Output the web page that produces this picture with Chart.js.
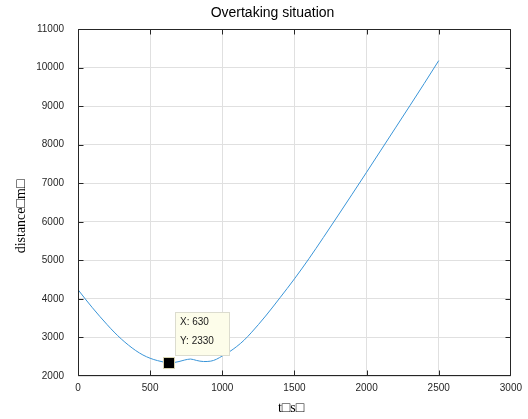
<!DOCTYPE html>
<html>
<head>
<meta charset="utf-8">
<script src="https://cdn.jsdelivr.net/npm/chart.js@4.4.0/dist/chart.umd.min.js"></script>
<style>
html,body{margin:0;padding:0;background:#fff;overflow:hidden}
#wrap{width:528px;height:419px;position:relative}
</style>
</head>
<body>
<div id="wrap"><canvas id="c" width="528" height="419"></canvas></div>
<script>
// ---- data ----
const chartTitle = 'Overtaking situation';
const xAxisLabel = 't\u25A1s\u25A1';
const yAxisLabel = 'distance\u25A1m\u25A1';

const timeValues = [0, 50, 100, 150, 200, 250, 300, 350, 400, 450, 500, 550, 600, 630, 660, 700, 740, 780, 820, 870, 920, 960, 1000, 1050, 1100, 1150, 1200, 1300, 1400, 1500, 1600, 1700, 1800, 1900, 2000, 2100, 2200, 2300, 2400, 2500];
const distanceValues = [4240, 4000, 3770, 3550, 3340, 3140, 2960, 2800, 2660, 2545, 2460, 2400, 2355, 2330, 2345, 2375, 2415, 2440, 2405, 2375, 2385, 2435, 2520, 2630, 2765, 2925, 3120, 3555, 4030, 4520, 5040, 5590, 6150, 6715, 7285, 7860, 8435, 9010, 9590, 10180];

const xTickValues = [0, 500, 1000, 1500, 2000, 2500, 3000];
const yTickValues = [2000, 3000, 4000, 5000, 6000, 7000, 8000, 9000, 10000, 11000];

const tipX = [630];
const tipY = [2330];

// ---- chart ----
const points = timeValues.map((t, i) => ({x: t, y: distanceValues[i]}));
const AXIS = '#262626';
const GRID = '#e0e0e0';
const SANS = "'Liberation Sans', Arial, Helvetica, sans-serif";
const SERIF = "'Liberation Serif', 'DejaVu Serif', serif";

const framePlugin = {
  id: 'frame',
  afterDatasetsDraw(chart) {
    const {ctx, chartArea: a, scales: {x, y}} = chart;
    ctx.save();
    ctx.strokeStyle = AXIS;
    ctx.lineWidth = 1;
    const L = Math.round(a.left) + 0.5, R = Math.round(a.right) - 0.5;
    const T = Math.round(a.top) + 0.5, B = Math.round(a.bottom) - 0.5;
    ctx.beginPath();
    ctx.rect(L, T, R - L, B - T);
    ctx.stroke();
    const tl = 5;
    ctx.beginPath();
    xTickValues.forEach(v => {
      let p = Math.round(x.getPixelForValue(v)) + 0.5;
      if (p > R) p = R;
      ctx.moveTo(p, B); ctx.lineTo(p, B - tl);
      ctx.moveTo(p, T); ctx.lineTo(p, T + tl);
    });
    yTickValues.forEach(v => {
      let p = Math.round(y.getPixelForValue(v)) + 0.5;
      if (p > B) p = B;
      ctx.moveTo(L, p); ctx.lineTo(L + tl, p);
      ctx.moveTo(R, p); ctx.lineTo(R - tl, p);
    });
    ctx.stroke();
    ctx.restore();
  },
  afterDraw(chart) {
    const {ctx, scales: {x, y}} = chart;
    ctx.save();
    // title
    ctx.fillStyle = '#000';
    ctx.font = '14px ' + SANS;
    ctx.textAlign = 'center';
    ctx.textBaseline = 'alphabetic';
    ctx.fillText(chartTitle, 272.5, 17);
    // x label
    ctx.font = '14px ' + SERIF;
    ctx.fillText(xAxisLabel, 291, 411.5);
    // y label
    ctx.translate(25, 216.5);
    ctx.rotate(-Math.PI / 2);
    ctx.fillText(yAxisLabel, 0, 0);
    ctx.restore();

    // datatip
    tipX.forEach((tx, i) => {
      const px = Math.round(x.getPixelForValue(tx));
      const py = Math.round(y.getPixelForValue(tipY[i]));
      ctx.save();
      ctx.fillStyle = '#000';
      ctx.fillRect(px - 5, py - 5, 10, 10);
      ctx.strokeStyle = '#d8d3b0';
      ctx.lineWidth = 1;
      ctx.strokeRect(px - 5.5, py - 5.5, 11, 11);
      const bx = px + 6, by = py - 51, bw = 55, bh = 44;
      ctx.fillStyle = '#fdfdea';
      ctx.fillRect(bx, by, bw, bh);
      ctx.strokeStyle = '#dcdccf';
      ctx.strokeRect(bx + 0.5, by + 0.5, bw - 1, bh - 1);
      ctx.fillStyle = '#1a1a1a';
      ctx.font = '10px ' + SANS;
      ctx.textAlign = 'left';
      ctx.textBaseline = 'middle';
      ctx.fillText('X: ' + tx, bx + 5, by + 10.5);
      ctx.fillText('Y: ' + tipY[i], bx + 5, by + 29.5);
      ctx.restore();
    });
  }
};

new Chart(document.getElementById('c'), {
  type: 'scatter',
  data: {
    datasets: [{
      data: points,
      showLine: true,
      borderColor: '#3a95d8',
      borderWidth: 1,
      pointRadius: 0,
      pointHoverRadius: 0,
      fill: false,
      cubicInterpolationMode: 'monotone'
    }]
  },
  options: {
    responsive: false,
    animation: false,
    devicePixelRatio: 1,
    events: [],
    layout: {padding: {left: 0, top: 29, right: 14, bottom: 0}},
    plugins: {legend: {display: false}, tooltip: {enabled: false}, title: {display: false}},
    scales: {
      x: {
        type: 'linear',
        min: xTickValues[0],
        max: xTickValues[xTickValues.length - 1],
        afterBuildTicks: s => { s.ticks = xTickValues.map(v => ({value: v})); },
        afterFit: s => { s.height = 43; },
        grid: {color: GRID, drawTicks: false, lineWidth: 1},
        border: {display: false},
        ticks: {
          color: AXIS, font: {family: SANS, size: 10}, padding: 6,
          maxRotation: 0, autoSkip: false, callback: v => String(v)
        }
      },
      y: {
        type: 'linear',
        min: yTickValues[0],
        max: yTickValues[yTickValues.length - 1],
        afterBuildTicks: s => { s.ticks = yTickValues.map(v => ({value: v})); },
        afterFit: s => { s.width = 78; },
        grid: {color: GRID, drawTicks: false, lineWidth: 1},
        border: {display: false},
        ticks: {
          color: AXIS, font: {family: SANS, size: 10}, padding: 14,
          autoSkip: false, callback: v => String(v)
        }
      }
    }
  },
  plugins: [framePlugin]
});
</script>
</body>
</html>
